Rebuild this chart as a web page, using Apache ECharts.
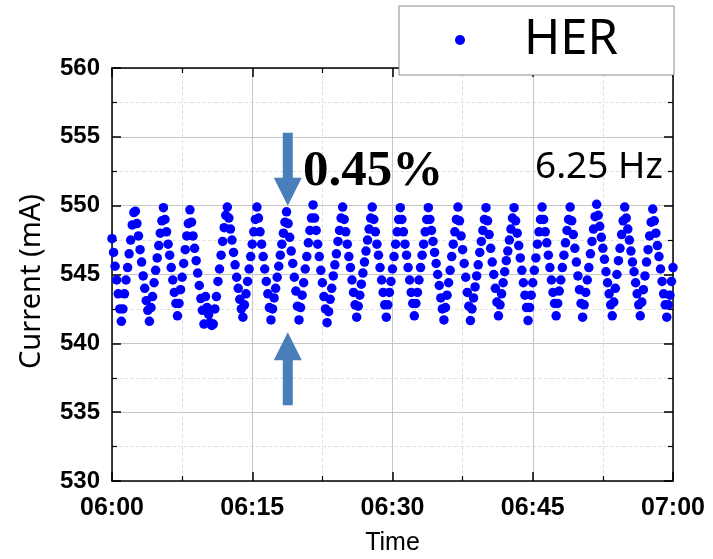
<!DOCTYPE html>
<html>
<head>
<meta charset="utf-8">
<script src="https://cdn.jsdelivr.net/npm/echarts@6/dist/echarts.min.js"></script>
<style>
  html, body { margin: 0; padding: 0; background: #ffffff; }
  #chart { width: 713px; height: 559px; }
</style>
</head>
<body>
<div id="chart"></div>
<script>
// HER beam current, 06:00-07:00, logged every 10 s
const SERIES_NAME = 'HER';
const START_HOUR = 6;
const SAMPLE_INTERVAL_S = 10;

const CURRENT_MA = [
  547.6, 546.6, 545.6, 544.6, 543.6, 542.5, 541.6,
  542.5, 543.6, 544.6, 545.5, 546.5, 547.5, 548.6, 549.5,
  549.6, 548.7, 547.8, 546.8, 545.9, 544.9, 544.0, 543.1, 542.4, 541.6,
  542.6, 543.4, 544.4, 545.3, 546.2, 547.1, 548.0, 548.9, 549.85,
  549.0, 548.1, 547.2, 546.4, 545.5, 544.6, 543.7, 542.9, 542.0,
  542.9, 543.9, 544.8, 545.8, 546.8, 547.8, 548.7, 549.7,
  548.8, 547.8, 546.9, 546.0, 545.1, 544.2, 543.25, 542.4, 541.4,
  543.4, 542.6, 542.1, 541.5, 541.3, 541.4, 542.5, 543.4,
  544.5, 545.4, 546.4, 547.4, 548.4, 549.3, 549.9,
  549.1, 548.3, 547.5, 546.6, 545.7, 544.8, 544.0, 543.2, 542.5, 541.9,
  542.8, 543.6, 544.5, 545.4, 546.3, 547.2, 548.1, 549.0, 549.9,
  549.1, 548.1, 547.2, 546.3, 545.4, 544.5, 543.6, 542.6, 541.7,
  542.5, 543.3, 544.0, 544.8, 545.6, 546.4, 547.2, 548.0, 548.8, 549.55,
  548.7, 547.7, 546.7, 545.8, 544.8, 543.8, 542.7, 541.7,
  542.6, 543.5, 544.4, 545.4, 546.3, 547.3, 548.2, 549.1, 550.05,
  549.1, 548.2, 547.2, 546.3, 545.3, 544.4, 543.4, 542.5, 541.5,
  542.3, 543.2, 544.0, 544.9, 545.7, 546.5, 547.4, 548.2, 549.1, 549.9,
  549.0, 548.1, 547.2, 546.3, 545.5, 544.6, 543.7, 542.8, 541.9,
  542.7, 543.5, 544.3, 545.1, 545.9, 546.7, 547.5, 548.3, 549.1, 549.9,
  549.0, 548.1, 547.2, 546.4, 545.5, 544.6, 543.7, 542.8, 541.9,
  542.8, 543.7, 544.5, 545.4, 546.3, 547.2, 548.1, 549.0, 549.85,
  549.0, 548.1, 547.2, 546.4, 545.5, 544.6, 543.7, 542.9, 542.0,
  542.9, 543.7, 544.6, 545.5, 546.4, 547.2, 548.1, 549.0, 549.85,
  549.0, 548.2, 547.4, 546.6, 545.8, 545.0, 544.2, 543.3, 542.5, 541.7,
  542.6, 543.5, 544.4, 545.3, 546.3, 547.2, 548.1, 549.0, 549.9,
  548.9, 547.8, 546.8, 545.8, 544.8, 543.7, 542.7, 541.65,
  542.5, 543.3, 544.1, 544.9, 545.7, 546.6, 547.4, 548.2, 549.0, 549.85,
  548.9, 547.9, 546.9, 545.9, 545.0, 544.0, 543.0, 542.0,
  542.8, 543.6, 544.4, 545.2, 546.0, 546.7, 547.5, 548.3, 549.1, 549.85,
  548.9, 548.0, 547.1, 546.2, 545.3, 544.4, 543.5, 542.6, 541.65,
  542.6, 543.5, 544.4, 545.3, 546.2, 547.2, 548.1, 549.0, 549.9,
  549.0, 548.1, 547.3, 546.4, 545.5, 544.6, 543.7, 542.9, 542.0,
  542.9, 543.8, 544.6, 545.5, 546.4, 547.3, 548.2, 549.0, 549.9,
  548.9, 547.9, 546.9, 545.9, 544.9, 543.9, 542.9, 541.9,
  542.8, 543.7, 544.6, 545.5, 546.5, 547.4, 548.3, 549.2, 550.1,
  549.3, 548.5, 547.7, 546.9, 546.1, 545.2, 544.4, 543.6, 542.8, 542.0,
  543.0, 544.0, 545.0, 546.0, 546.9, 547.9, 548.9, 549.9,
  549.1, 548.3, 547.5, 546.7, 545.9, 545.2, 544.4, 543.6, 542.8, 542.0,
  543.0, 543.9, 544.9, 545.9, 546.8, 547.8, 548.8, 549.75,
  548.9, 548.0, 547.1, 546.3, 545.4, 544.5, 543.6, 542.8, 541.9,
  542.8, 543.5, 544.5, 545.5
];

// axes (x in minutes after 06:00)
const X_MIN = 0, X_MAX = 60, X_STEP = 15;
const Y_MIN = 530, Y_MAX = 560, Y_STEP = 5;

// annotation: fluctuation band and injection rate
const BAND_LABEL = '0.45%';
const RATE_LABEL = '6.25 Hz';
const BAND_AT_MIN = 18.8;
const BAND_TOP = 550.0;
const BAND_BOTTOM = 540.8;

const points = CURRENT_MA.map((v, i) => [i * SAMPLE_INTERVAL_S / 60, v]);

function clockLabel(m) {
  const h = START_HOUR + Math.floor(m / 60);
  const mm = Math.round(m % 60);
  return String(h).padStart(2, '0') + ':' + String(mm).padStart(2, '0');
}

const AXIS_BLACK = '#000000';
const MAJOR_GRID = { show: true, lineStyle: { color: '#c6c6c6', width: 1, type: 'solid' } };
const MINOR_GRID = { show: true, lineStyle: { color: '#e2e2e2', width: 1, type: 'dashed' } };
const AXIS_LINE = { show: true, onZero: false, lineStyle: { color: AXIS_BLACK, width: 1.5 } };
const TICK = { show: true, inside: true, length: 9, lineStyle: { color: AXIS_BLACK, width: 1.5 } };
const MINOR_TICK = { show: true, splitNumber: 2, length: 5, lineStyle: { color: AXIS_BLACK, width: 1.2 } };
const LABEL_FONT = 'Liberation Sans, Arial, sans-serif';

const chart = echarts.init(document.getElementById('chart'), null, { renderer: 'canvas' });

const option = {
  animation: false,
  backgroundColor: '#ffffff',
  grid: { left: 112, top: 68, right: 40, bottom: 78, containLabel: false, outerBoundsMode: 'none' },
  legend: {
    left: 399, top: 6,
    padding: [9, 56, 10, 56],
    icon: 'circle',
    itemWidth: 118, itemHeight: 10,
    selectedMode: false,
    backgroundColor: '#ffffff',
    borderColor: '#8a8a8a', borderWidth: 1, borderRadius: 0,
    textStyle: { fontFamily: 'Noto Sans, sans-serif', fontSize: 49, color: '#000', lineHeight: 50 },
    data: [SERIES_NAME]
  },
  xAxis: [
    {
      type: 'value', position: 'bottom',
      min: X_MIN, max: X_MAX, interval: X_STEP,
      name: 'Time', nameLocation: 'middle', nameGap: 50,
      nameTextStyle: { fontFamily: LABEL_FONT, fontSize: 25, color: AXIS_BLACK },
      axisLine: AXIS_LINE, axisTick: TICK, minorTick: MINOR_TICK,
      splitLine: MAJOR_GRID, minorSplitLine: MINOR_GRID,
      axisLabel: { formatter: clockLabel, margin: 15, fontFamily: LABEL_FONT, fontWeight: 'bold', fontSize: 25, color: AXIS_BLACK }
    },
    {
      type: 'value', position: 'top',
      min: X_MIN, max: X_MAX, interval: X_STEP,
      axisLine: AXIS_LINE, axisTick: TICK, minorTick: MINOR_TICK,
      splitLine: { show: false }, axisLabel: { show: false }
    }
  ],
  yAxis: [
    {
      type: 'value', position: 'left',
      min: Y_MIN, max: Y_MAX, interval: Y_STEP,
      name: 'Current (mA)', nameLocation: 'middle', nameGap: 66, nameRotate: 90,
      nameTextStyle: { fontFamily: 'Noto Sans, sans-serif', fontSize: 29, color: AXIS_BLACK, padding: [0, 14, 0, 0] },
      axisLine: AXIS_LINE, axisTick: TICK, minorTick: MINOR_TICK,
      splitLine: MAJOR_GRID, minorSplitLine: MINOR_GRID,
      axisLabel: { margin: 12, fontFamily: LABEL_FONT, fontWeight: 'bold', fontSize: 24, color: AXIS_BLACK }
    },
    {
      type: 'value', position: 'right',
      min: Y_MIN, max: Y_MAX, interval: Y_STEP,
      axisLine: AXIS_LINE, axisTick: TICK, minorTick: MINOR_TICK,
      splitLine: { show: false }, axisLabel: { show: false }
    }
  ],
  series: [
    {
      name: SERIES_NAME,
      type: 'scatter',
      xAxisIndex: 0, yAxisIndex: 0,
      symbol: 'circle', symbolSize: 9.5,
      itemStyle: { color: '#0000ff', opacity: 1 },
      data: points,
      z: 3
    }
  ]
};

chart.setOption(option);

// arrows and labels placed from data coordinates
const ARROW_COLOR = '#4a7ebb';
const tipTop = chart.convertToPixel({ gridIndex: 0 }, [BAND_AT_MIN, BAND_TOP]);
const tipBottom = chart.convertToPixel({ gridIndex: 0 }, [BAND_AT_MIN, BAND_BOTTOM]);
const SHAFT_HALF = 5, HEAD_HALF = 14, HEAD_LEN = 28, SHAFT_LEN = 45;

function arrowPoints(tip, dir) {
  // dir = +1 points downward, -1 points upward
  const [x, y] = tip;
  const base = y - dir * HEAD_LEN;
  const tail = base - dir * SHAFT_LEN;
  return [
    [x, y],
    [x + HEAD_HALF, base],
    [x + SHAFT_HALF, base],
    [x + SHAFT_HALF, tail],
    [x - SHAFT_HALF, tail],
    [x - SHAFT_HALF, base],
    [x - HEAD_HALF, base]
  ];
}

chart.setOption({
  graphic: [
    { type: 'polygon', shape: { points: arrowPoints(tipTop, 1) }, style: { fill: ARROW_COLOR }, z: 10 },
    { type: 'polygon', shape: { points: arrowPoints(tipBottom, -1) }, style: { fill: ARROW_COLOR }, z: 10 },
    {
      type: 'text', left: 303, top: 146, z: 10,
      style: { text: BAND_LABEL, fontFamily: 'Liberation Serif, Times New Roman, serif', fontWeight: 'bold', fontSize: 51, fill: '#000' }
    },
    {
      type: 'text', left: 535, top: 149, z: 10,
      style: { text: RATE_LABEL, fontFamily: 'Noto Sans, sans-serif', fontSize: 37, fill: '#000' }
    }
  ]
});
</script>
</body>
</html>
